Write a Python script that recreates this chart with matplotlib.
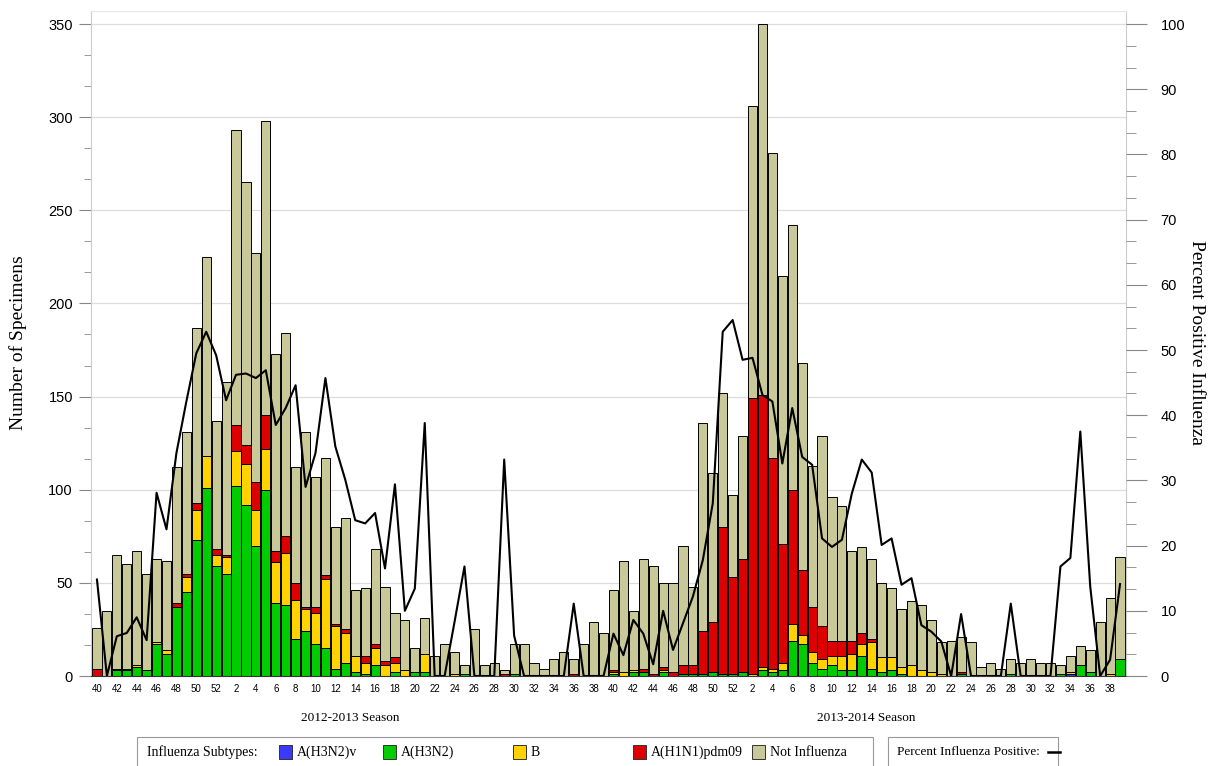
import matplotlib
matplotlib.use('Agg')
import matplotlib.pyplot as plt
import numpy as np
from matplotlib.patches import Rectangle
from matplotlib.lines import Line2D

# week numbers for one season (MMWR week 40 .. week 39)
weeks = list(range(40, 53)) + list(range(1, 40))
week_labels = weeks + weeks
seasons = ['2012-2013 Season', '2013-2014 Season']

# total specimens tested per week
total_s1 = [26, 35, 65, 60, 67, 55, 63, 62, 112, 131, 187, 225, 137,
            158, 293, 265, 227, 298, 173, 184, 112, 131, 107, 117, 80, 85,
            46, 47, 68, 48, 34, 30, 15, 31, 11, 17, 13, 6, 25, 6, 7, 3,
            17, 17, 7, 4, 9, 13, 9, 17, 29, 23]
total_s2 = [46, 62, 35, 63, 59, 50, 50, 70, 48, 136, 109, 152, 97,
            129, 306, 350, 281, 215, 242, 168, 113, 129, 96, 91, 67, 69,
            63, 50, 47, 36, 40, 38, 30, 18, 19, 21, 18, 5, 7, 4, 9, 7,
            9, 7, 7, 6, 11, 16, 14, 29, 42, 64]

# positives by subtype
h3n2v_s1 = [0] * 52
h3n2v_s2 = [0] * 46 + [1] + [0] * 5

h3n2_s1 = [0, 0, 3, 3, 5, 3, 17, 12, 37, 45, 73, 101, 59,
           55, 102, 92, 70, 100, 39, 38, 20, 24, 17, 15, 4, 7,
           2, 1, 6, 0, 2, 0, 2, 2, 0, 0, 0, 1, 0, 0, 0, 0,
           1, 0, 0, 0, 0, 0, 0, 0, 0, 0]
h3n2_s2 = [1, 0, 2, 2, 0, 2, 0, 1, 1, 1, 2, 1, 1,
           2, 0, 3, 2, 3, 19, 17, 7, 4, 6, 3, 3, 11,
           4, 2, 3, 1, 0, 0, 0, 0, 0, 1, 0, 0, 0, 0, 1, 0,
           0, 0, 0, 1, 0, 6, 2, 0, 0, 9]

b_s1 = [0, 0, 1, 1, 1, 0, 1, 2, 0, 8, 16, 17, 6,
        9, 19, 22, 19, 22, 22, 28, 21, 12, 17, 37, 23, 16,
        9, 6, 9, 6, 5, 3, 0, 10, 0, 0, 1, 0, 0, 0, 0, 0,
        0, 0, 0, 0, 0, 0, 0, 0, 0, 0]
b_s2 = [1, 2, 1, 0, 0, 1, 0, 0, 0, 0, 0, 0, 0,
        0, 1, 2, 2, 4, 9, 5, 6, 5, 5, 8, 9, 6,
        14, 8, 7, 4, 6, 3, 2, 1, 0, 0, 0, 0, 0, 0, 0, 0,
        0, 0, 0, 0, 1, 0, 0, 0, 1, 0]

h1n1_s1 = [4, 0, 0, 0, 0, 0, 0, 0, 2, 2, 4, 0, 3,
           1, 14, 10, 15, 18, 6, 9, 9, 1, 3, 2, 1, 2,
           0, 4, 2, 2, 3, 0, 0, 0, 0, 0, 0, 0, 0, 0, 0, 1,
           0, 0, 0, 0, 0, 0, 1, 0, 0, 0]
h1n1_s2 = [1, 0, 0, 2, 1, 2, 2, 5, 5, 23, 27, 79, 52,
           61, 148, 146, 113, 64, 72, 35, 24, 18, 8, 8, 7, 6,
           2, 0, 0, 0, 0, 0, 0, 0, 0, 1, 0, 0, 0, 0, 0, 0,
           0, 0, 0, 0, 0, 0, 0, 0, 0, 0]

# percent positive for influenza
pct_s1 = [14.8, 0, 6.1, 6.6, 9.0, 5.5, 28.1, 22.5, 34.2, 42.1, 49.5, 52.8, 49.2,
          42.3, 46.2, 46.4, 45.7, 46.9, 38.5, 41.1, 44.6, 29.0, 34.2, 45.7, 35.2, 30.1,
          23.9, 23.4, 25.0, 16.5, 29.4, 10.0, 13.4, 38.8, 0, 0, 8.3, 16.8, 0, 0, 0, 33.2,
          6.2, 0, 0, 0, 0, 0, 11.1, 0, 0, 0]
pct_s2 = [6.5, 3.2, 8.6, 6.5, 1.8, 10.0, 4.0, 8.1, 12.2, 17.8, 26.5, 52.8, 54.6,
          48.5, 48.8, 43.1, 42.1, 32.6, 41.1, 33.6, 32.4, 21.1, 19.8, 20.9, 28.0, 33.2,
          31.2, 20.1, 21.1, 14.0, 15.0, 7.8, 6.8, 5.3, 0, 9.5, 0, 0, 0, 0, 11.1, 0,
          0, 0, 0, 16.8, 18.1, 37.5, 13.7, 0, 2.5, 14.1]

subtype_names = ['A(H3N2)v', 'A(H3N2)', 'B', 'A(H1N1)pdm09', 'Not Influenza']
colors = ['#3a3aff', '#00cc00', '#ffd200', '#dd0000', '#c8c898']

total = np.array(total_s1 + total_s2, dtype=float)
stacks = [np.array(h3n2v_s1 + h3n2v_s2, dtype=float),
          np.array(h3n2_s1 + h3n2_s2, dtype=float),
          np.array(b_s1 + b_s2, dtype=float),
          np.array(h1n1_s1 + h1n1_s2, dtype=float)]
flu = sum(stacks)
stacks.append(total - flu)
pct = pct_s1 + pct_s2
x = np.arange(len(total))

W, H = 1214, 766
fig = plt.figure(figsize=(W / 100, H / 100), dpi=100)
ax = fig.add_axes([91 / W, 90 / H, (1126 - 91) / W, (676 - 11) / H])

bottom = np.zeros(len(x))
for vals, c in zip(stacks, colors):
    mask = vals > 0
    ax.bar(x[mask], vals[mask], bottom=bottom[mask], width=0.92, color=c,
           edgecolor='black', linewidth=0.7, zorder=2)
    bottom = bottom + vals

ax.set_xlim(-0.6, 103.6)
ax.set_ylim(0, 357)
ax.set_yticks(np.arange(0, 351, 50))
ax.set_yticks(np.arange(0, 351, 50 / 3), minor=True)
ax.yaxis.grid(True, color='#dddddd', linewidth=0.9, zorder=0)
ax.set_axisbelow(True)

tick_pos = [i for i in x if week_labels[i] % 2 == 0]
ax.set_xticks(tick_pos)
ax.set_xticklabels([str(week_labels[i]) for i in tick_pos], fontsize=7,
                   fontfamily='Liberation Sans')
ax.tick_params(axis='x', length=0, pad=6)
ax.tick_params(axis='y', which='major', length=9, color='#888888',
               labelsize=10.5, pad=4)
ax.tick_params(axis='y', which='minor', length=5, color='#888888')
for lab in ax.get_yticklabels():
    lab.set_fontfamily('Liberation Sans')
for s in ['left', 'right', 'top']:
    ax.spines[s].set_color('#cccccc')
ax.spines['top'].set_color('#e6e6e6')
ax.spines['bottom'].set_color('#333333')

ax2 = ax.twinx()
ax2.plot(x, pct, color='black', linewidth=1.5, zorder=5)
ax2.set_ylim(0, 357 * 100 / 350)
ax2.set_yticks(np.arange(0, 101, 10))
ax2.set_yticks(np.arange(0, 101, 10 / 3), minor=True)
ax2.tick_params(axis='y', which='major', length=15, color='#888888',
                labelsize=10.5, pad=10)
ax2.tick_params(axis='y', which='minor', length=7, color='#888888')
for lab in ax2.get_yticklabels():
    lab.set_fontfamily('Liberation Sans')
for s in ['left', 'right', 'top', 'bottom']:
    ax2.spines[s].set_visible(False)

serif = 'Liberation Serif'
fig.text(18 / W, 1 - 343 / H, 'Number of Specimens', rotation=90,
         ha='center', va='center', fontsize=14, fontfamily=serif)
fig.text(1197 / W, 1 - 343 / H, 'Percent Positive Influenza', rotation=270,
         ha='center', va='center', fontsize=14, fontfamily=serif)

for k, name in enumerate(seasons):
    fig.text((350 + 516 * k) / W, 1 - 718 / H, name, ha='center', va='center',
             fontsize=9.5, fontfamily=serif)

# legend boxes
def px(xp, yp):
    return xp / W, 1 - yp / H

fig.add_artist(Rectangle(px(137, 767), 736 / W, 30 / H, transform=fig.transFigure,
                         facecolor='white', edgecolor='#999999', linewidth=0.8))
fig.add_artist(Rectangle(px(888, 767), 170 / W, 30 / H, transform=fig.transFigure,
                         facecolor='white', edgecolor='#999999', linewidth=0.8))
ly = 752
fig.text(*px(147, ly), 'Influenza Subtypes:', ha='left', va='center',
         fontsize=10, fontfamily=serif)
sq_x = [279, 383, 513, 633, 752]
for sx, c, name in zip(sq_x, colors, subtype_names):
    fig.add_artist(Rectangle(px(sx, ly + 7), 13 / W, 14 / H, transform=fig.transFigure,
                             facecolor=c, edgecolor='#333333', linewidth=0.7))
    fig.text(*px(sx + 18, ly), name, ha='left', va='center',
             fontsize=10, fontfamily=serif)
fig.text(*px(897, ly), 'Percent Influenza Positive:', ha='left', va='center',
         fontsize=9.5, fontfamily=serif)
fig.add_artist(Line2D([1048 / W, 1060 / W], [1 - ly / H, 1 - ly / H],
                      transform=fig.transFigure, color='black', linewidth=1.8))

fig.savefig('out.png', dpi=100)
